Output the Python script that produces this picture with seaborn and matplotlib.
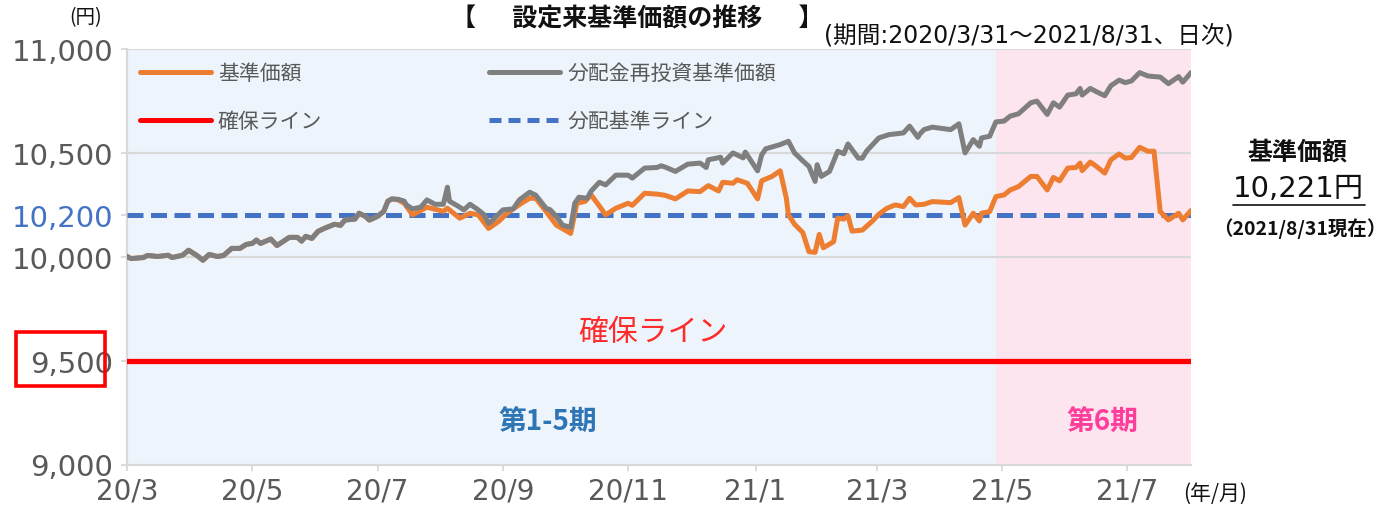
import matplotlib
matplotlib.use("Agg")
import matplotlib.pyplot as plt
from matplotlib.patches import Rectangle
from matplotlib.lines import Line2D
import seaborn as sns
import pandas as pd

# ---------------- data ----------------
early_dates = ["2020-03-31", "2020-04-02", "2020-04-08", "2020-04-10", "2020-04-15", "2020-04-20",
               "2020-04-22", "2020-04-27", "2020-04-30", "2020-05-04", "2020-05-07", "2020-05-10",
               "2020-05-14", "2020-05-17", "2020-05-21", "2020-05-25", "2020-05-28", "2020-05-31",
               "2020-06-02", "2020-06-04", "2020-06-09", "2020-06-12", "2020-06-15", "2020-06-18",
               "2020-06-22", "2020-06-24", "2020-06-26", "2020-06-29", "2020-07-02", "2020-07-05",
               "2020-07-10", "2020-07-13", "2020-07-15", "2020-07-20", "2020-07-22", "2020-07-25",
               "2020-07-27", "2020-07-31", "2020-08-03", "2020-08-05", "2020-08-07"]
early_values = [10000, 9990, 9995, 10005, 10000, 10006,
                9995, 10006, 10030, 10005, 9982, 10010,
                10000, 10005, 10039, 10039, 10058, 10063,
                10079, 10063, 10084, 10053, 10072, 10092,
                10092, 10074, 10097, 10087, 10121, 10135,
                10155, 10150, 10175, 10180, 10208, 10193,
                10175, 10193, 10217, 10266, 10277]

nav_late_dates = ["2020-08-10", "2020-08-13", "2020-08-17", "2020-08-24", "2020-09-01", "2020-09-03",
                  "2020-09-09", "2020-09-14", "2020-09-18", "2020-09-23", "2020-09-28", "2020-10-02",
                  "2020-10-09", "2020-10-13", "2020-10-16", "2020-10-21", "2020-10-26", "2020-11-02",
                  "2020-11-05", "2020-11-09", "2020-11-12", "2020-11-16", "2020-11-19", "2020-11-24",
                  "2020-11-30", "2020-12-02", "2020-12-08", "2020-12-14", "2020-12-18", "2020-12-23",
                  "2020-12-29", "2021-01-04", "2021-01-08", "2021-01-13", "2021-01-15", "2021-01-20",
                  "2021-01-22", "2021-01-27", "2021-02-01", "2021-02-03", "2021-02-08", "2021-02-12",
                  "2021-02-15", "2021-02-16", "2021-02-19", "2021-02-23", "2021-02-26", "2021-03-01",
                  "2021-03-03", "2021-03-05", "2021-03-10", "2021-03-12", "2021-03-15", "2021-03-17",
                  "2021-03-19", "2021-03-24", "2021-03-29", "2021-04-01", "2021-04-05", "2021-04-09",
                  "2021-04-13", "2021-04-16", "2021-04-19", "2021-04-23", "2021-04-27", "2021-05-06",
                  "2021-05-10", "2021-05-13", "2021-05-17", "2021-05-20", "2021-05-21", "2021-05-25",
                  "2021-05-28", "2021-06-01", "2021-06-04", "2021-06-08", "2021-06-14", "2021-06-17",
                  "2021-06-22", "2021-06-25", "2021-06-28", "2021-07-02", "2021-07-06", "2021-07-08",
                  "2021-07-09", "2021-07-13", "2021-07-16", "2021-07-20", "2021-07-23", "2021-07-27",
                  "2021-07-30", "2021-08-02", "2021-08-06", "2021-08-10", "2021-08-13", "2021-08-16",
                  "2021-08-20", "2021-08-25", "2021-08-27", "2021-08-31"]
nav_late_values = [10272, 10256, 10200, 10237, 10217, 10232,
                   10184, 10208, 10200, 10135, 10169, 10208,
                   10256, 10280, 10280, 10217, 10151, 10111,
                   10256, 10265, 10296, 10242, 10200, 10232,
                   10256, 10246, 10304, 10300, 10294, 10277,
                   10315, 10312, 10341, 10315, 10357, 10352,
                   10369, 10352, 10277, 10364, 10385, 10412,
                   10280, 10200, 10155, 10115, 10023, 10020,
                   10106, 10042, 10071, 10184, 10180, 10196,
                   10122, 10127, 10171, 10203, 10232, 10248,
                   10240, 10280, 10248, 10251, 10264, 10259,
                   10283, 10151, 10208, 10171, 10208, 10216,
                   10288, 10296, 10320, 10336, 10385, 10385,
                   10320, 10380, 10364, 10425, 10428, 10449,
                   10413, 10454, 10433, 10401, 10465, 10493,
                   10473, 10476, 10525, 10506, 10506, 10216,
                   10176, 10208, 10176, 10221]

reinv_late_dates = ["2020-08-10", "2020-08-13", "2020-08-14", "2020-08-17", "2020-08-21", "2020-08-24",
                    "2020-08-28", "2020-09-01", "2020-09-03", "2020-09-04", "2020-09-09", "2020-09-11",
                    "2020-09-14", "2020-09-18", "2020-09-21", "2020-09-23", "2020-09-25", "2020-09-30",
                    "2020-10-05", "2020-10-08", "2020-10-13", "2020-10-16", "2020-10-21", "2020-10-23",
                    "2020-10-26", "2020-10-29", "2020-11-02", "2020-11-04", "2020-11-06", "2020-11-10",
                    "2020-11-12", "2020-11-16", "2020-11-19", "2020-11-24", "2020-11-30", "2020-12-02",
                    "2020-12-08", "2020-12-14", "2020-12-16", "2020-12-18", "2020-12-23", "2020-12-29",
                    "2021-01-04", "2021-01-07", "2021-01-08", "2021-01-14", "2021-01-15", "2021-01-20",
                    "2021-01-25", "2021-01-26", "2021-01-29", "2021-02-01", "2021-02-03", "2021-02-05",
                    "2021-02-12", "2021-02-16", "2021-02-19", "2021-02-23", "2021-02-26", "2021-03-01",
                    "2021-03-02", "2021-03-04", "2021-03-08", "2021-03-12", "2021-03-15", "2021-03-17",
                    "2021-03-22", "2021-03-24", "2021-03-26", "2021-04-01", "2021-04-06", "2021-04-13",
                    "2021-04-16", "2021-04-20", "2021-04-21", "2021-04-23", "2021-04-27", "2021-05-06",
                    "2021-05-10", "2021-05-13", "2021-05-17", "2021-05-20", "2021-05-21", "2021-05-25",
                    "2021-05-28", "2021-06-01", "2021-06-04", "2021-06-08", "2021-06-14", "2021-06-17",
                    "2021-06-22", "2021-06-25", "2021-06-28", "2021-07-02", "2021-07-06", "2021-07-08",
                    "2021-07-09", "2021-07-13", "2021-07-16", "2021-07-20", "2021-07-23", "2021-07-27",
                    "2021-07-30", "2021-08-02", "2021-08-06", "2021-08-10", "2021-08-13", "2021-08-16",
                    "2021-08-20", "2021-08-25", "2021-08-27", "2021-08-31"]
reinv_late_values = [10275, 10266, 10248, 10229, 10237, 10272,
                     10251, 10251, 10333, 10266, 10237, 10224,
                     10251, 10224, 10200, 10159, 10175, 10224,
                     10229, 10272, 10309, 10295, 10232, 10225,
                     10193, 10151, 10140, 10256, 10285, 10280,
                     10315, 10357, 10344, 10391, 10391, 10377,
                     10425, 10428, 10436, 10430, 10409, 10444,
                     10449, 10428, 10465, 10477, 10449, 10498,
                     10474, 10502, 10457, 10412, 10489, 10518,
                     10538, 10554, 10498, 10460, 10433, 10361,
                     10441, 10385, 10409, 10506, 10494, 10541,
                     10473, 10473, 10506, 10570, 10586, 10594,
                     10627, 10573, 10589, 10610, 10622, 10610,
                     10638, 10498, 10562, 10530, 10570, 10578,
                     10647, 10651, 10675, 10686, 10739, 10747,
                     10683, 10739, 10718, 10776, 10782, 10808,
                     10776, 10808, 10792, 10773, 10821, 10848,
                     10836, 10844, 10884, 10868, 10865, 10863,
                     10831, 10865, 10838, 10884]

guarantee_level = 9500
distribution_level = 10200
grid_levels = [10000, 10500, 11000]
period_start = "2020-03-31"
period6_start = "2021-05-28"
period_end = "2021-08-31"

tick_dates = ["2020-03-31", "2020-05-31", "2020-07-31", "2020-09-30", "2020-11-30",
              "2021-01-31", "2021-03-31", "2021-05-31", "2021-07-31"]
tick_labels = ["20/3", "20/5", "20/7", "20/9", "20/11", "21/1", "21/3", "21/5", "21/7"]
y_ticks = [9000, 9500, 10000, 10200, 10500, 11000]
y_tick_labels = ["9,000", "9,500", "10,000", "10,200", "10,500", "11,000"]

series_names = ["基準価額", "分配金再投資基準価額", "確保ライン", "分配基準ライン"]
latest_nav_text = "10,221円"

# ---------------- styling ----------------
ORANGE = "#ED7D31"
GRAY = "#7F7F7F"
RED = "#FF0000"
BLUE = "#4472C4"
TXT = "#595959"
GRID = "#D9D9D9"
WIDE = ["DejaVu Sans", "Noto Sans CJK JP"]

sns.set_theme(style="white")
plt.rcParams["font.family"] = ["Noto Sans CJK JP", "DejaVu Sans"]

W, H = 1387, 510
fig = plt.figure(figsize=(W / 100, H / 100), dpi=100)
ax = fig.add_axes([127 / W, 1 - 465.5 / H, (1191 - 127) / W, (465.5 - 49.5) / H])


def fx(px):
    return px / W


def fy(py):
    return 1 - py / H


nav_df = pd.DataFrame({"date": pd.to_datetime(early_dates + nav_late_dates),
                       "value": early_values + nav_late_values})
reinv_df = pd.DataFrame({"date": pd.to_datetime(early_dates + reinv_late_dates),
                         "value": early_values + reinv_late_values})

x0, x6, x1 = pd.Timestamp(period_start), pd.Timestamp(period6_start), pd.Timestamp(period_end)

ax.axvspan(x0, x6, color="#EDF4FB", zorder=0, lw=0)
ax.axvspan(x6, x1, color="#FDE5F0", zorder=0, lw=0)
for g in grid_levels:
    ax.axhline(g, color=GRID, lw=1.6, zorder=1)

ax.axhline(guarantee_level, color=RED, lw=3.8, zorder=3, solid_capstyle="round")
ax.axhline(distribution_level, color=BLUE, lw=3.6, zorder=3, dashes=(3.2, 1.5),
           dash_capstyle="butt")

sns.lineplot(data=nav_df, x="date", y="value", ax=ax, color=ORANGE, lw=3.6, zorder=4,
             solid_joinstyle="round", sort=True)
sns.lineplot(data=reinv_df, x="date", y="value", ax=ax, color=GRAY, lw=3.6, zorder=5,
             solid_joinstyle="round", sort=True)

ax.set_xlim(x0, x1)
ax.set_ylim(9000, 11000)
ax.set_xlabel("")
ax.set_ylabel("")

ax.set_xticks(pd.to_datetime(tick_dates))
ax.set_xticklabels(tick_labels)
ax.set_yticks(y_ticks)
ax.set_yticklabels(y_tick_labels)
ax.tick_params(axis="both", which="major", length=4, width=1.3, color=GRID,
               labelcolor=TXT, direction="out", left=True, bottom=True)
ax.tick_params(axis="x", pad=5, labelsize=20)
ax.tick_params(axis="y", pad=6, labelsize=21)
for lab in ax.get_xticklabels() + ax.get_yticklabels():
    lab.set_family(WIDE)
ax.get_yticklabels()[3].set_color(BLUE)

for s in ["top", "right"]:
    ax.spines[s].set_visible(False)
for s in ["left", "bottom"]:
    ax.spines[s].set_color(GRID)
    ax.spines[s].set_linewidth(1.6)

# legend
handles = [
    Line2D([], [], color=ORANGE, lw=3.6, solid_capstyle="round"),
    Line2D([], [], color=RED, lw=3.6, solid_capstyle="round"),
    Line2D([], [], color=GRAY, lw=3.6, solid_capstyle="round"),
    Line2D([], [], color=BLUE, lw=3.6, dashes=(2.4, 1.4)),
]
labels = [series_names[0], series_names[2], series_names[1], series_names[3]]
leg = ax.legend(handles, labels, ncol=2, loc="upper left", bbox_to_anchor=(0.012, 0.968),
                frameon=False, fontsize=15, handlelength=3.4, handletextpad=0.35,
                columnspacing=8.0, labelspacing=1.28, borderaxespad=0, borderpad=0)
for t in leg.get_texts():
    t.set_color(TXT)

# in-plot annotations
ax.text(pd.Timestamp("2020-12-12"), 9640, "確保ライン", color="#FF2A2A", fontsize=21.5,
        ha="center", va="center", zorder=6)
ax.text(pd.Timestamp("2020-10-22"), 9205, "第1-5期", color="#2E75B6", fontsize=20,
        fontweight="bold", ha="center", va="center", zorder=6)
ax.text(pd.Timestamp("2021-07-19"), 9205, "第6期", color="#FF3D9A", fontsize=20,
        fontweight="bold", ha="center", va="center", zorder=6)

# figure texts
fig.text(fx(637), fy(19), "【　  設定来基準価額の推移　  】", fontsize=18, fontweight="bold",
         color="#111111", ha="center", va="center")
fig.text(fx(824), fy(35), "(期間:2020/3/31～2021/8/31、日次)", fontsize=17, color="#111111",
         ha="left", va="center", family=WIDE)
fig.text(fx(86), fy(18), "(円)", fontsize=14, color="#111111", ha="center", va="center")
fig.text(fx(1215), fy(494), "(年/月)", fontsize=15, color="#111111", ha="center", va="center")

fig.text(fx(1297), fy(153), series_names[0], fontsize=18, fontweight="bold", color="#111111",
         ha="center", va="center")
fig.text(fx(1298), fy(189), latest_nav_text, fontsize=21, color="#111111",
         ha="center", va="center", family=WIDE)
fig.add_artist(Line2D([fx(1233), fx(1365)], [fy(206), fy(206)], color="#111111", lw=1.2,
                      transform=fig.transFigure))
fig.text(fx(1300), fy(229), "（2021/8/31現在）", fontsize=14, fontweight="bold",
         color="#111111", ha="center", va="center")

# red box around 9,500
fig.add_artist(Rectangle((fx(16), fy(387)), fx(105) - fx(16), fy(333) - fy(387), fill=False,
                         edgecolor=RED, lw=2.6, transform=fig.transFigure))

fig.savefig("out.png", dpi=100)
